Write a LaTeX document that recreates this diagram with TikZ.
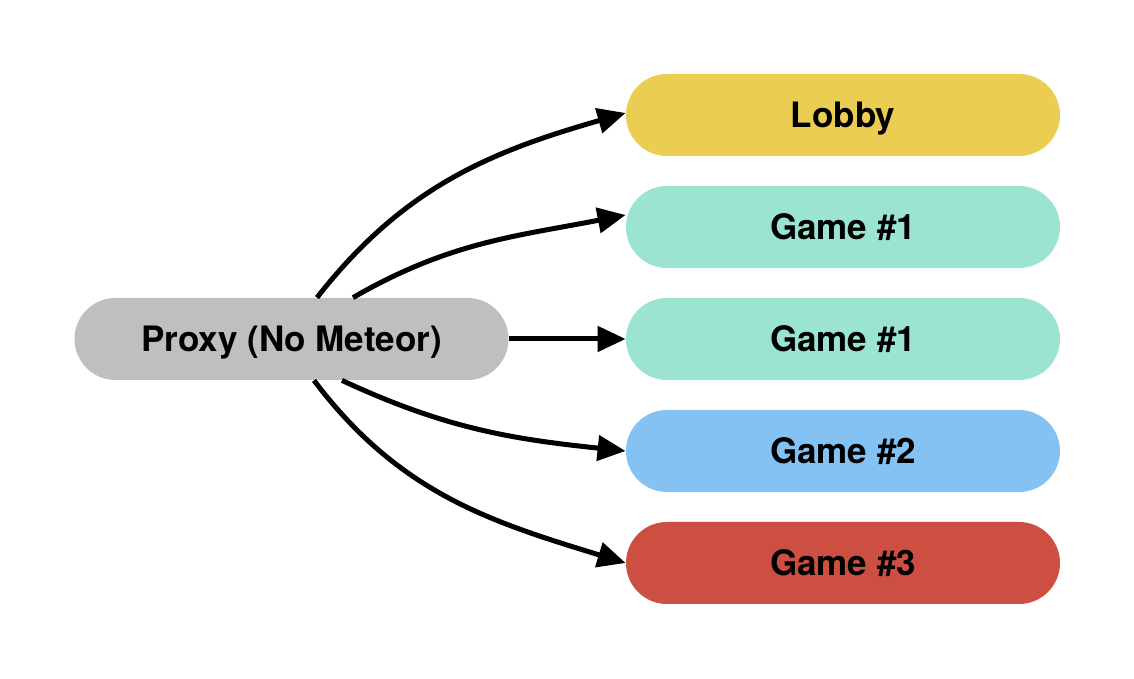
\documentclass[tikz,border=0pt]{standalone}
\usepackage{fontspec}
\setmainfont{TeX Gyre Heros}
\usetikzlibrary{arrows.meta}

\definecolor{proxygray}{HTML}{BFBFBF}
\definecolor{lobbyyellow}{HTML}{EBCD52}
\definecolor{gamegreen}{HTML}{9AE4D1}
\definecolor{gameblue}{HTML}{84C2F3}
\definecolor{gamered}{HTML}{CC4F41}

\begin{document}
\begin{tikzpicture}[x=0.5pt, y=0.5pt,
		font=\fontsize{17.5}{21}\selectfont\bfseries,
		pill/.style={rectangle, rounded corners=20.5pt, minimum width=217pt, minimum height=41pt, inner sep=0pt, text height=12.6pt, text depth=0pt},
		link/.style={-{Triangle[length=14pt,width=12.5pt]}, line width=2.5pt}]
		\useasboundingbox (0, 0) rectangle (1134, 679);
		% the proxy on the left
		\node [pill, fill=proxygray] (proxy) at (291.5, 340) {Proxy (No Meteor)};
		% the servers on the right
		\node [pill, fill=lobbyyellow] (lobby) at (843, 564) {Lobby};
		\node [pill, fill=gamegreen] (gameonea) at (843, 452) {Game \#1};
		\node [pill, fill=gamegreen] (gameoneb) at (843, 340) {Game \#1};
		\node [pill, fill=gameblue] (gametwo) at (843, 228) {Game \#2};
		\node [pill, fill=gamered] (gamethree) at (843, 116) {Game \#3};
		% where the curved links leave the proxy
		\coordinate (topa) at ([xshift=12.75pt]proxy.north);
		\coordinate (topb) at ([xshift=30.75pt]proxy.north);
		\coordinate (bota) at ([xshift=11.25pt]proxy.south);
		\coordinate (botb) at ([xshift=25.25pt]proxy.south);
		\draw [link] (topa) to [out=52, in=-164] ([yshift=1pt]lobby.west);
		\draw [link] (topb) to [out=30, in=-169] ([yshift=6pt]gameonea.west);
		\draw [link] (proxy.east) -- (gameoneb.west);
		\draw [link] (botb) to [out=-25, in=174] (gametwo.west);
		\draw [link] (bota) to [out=-53, in=163] (gamethree.west);
	\end{tikzpicture}
\end{document}
